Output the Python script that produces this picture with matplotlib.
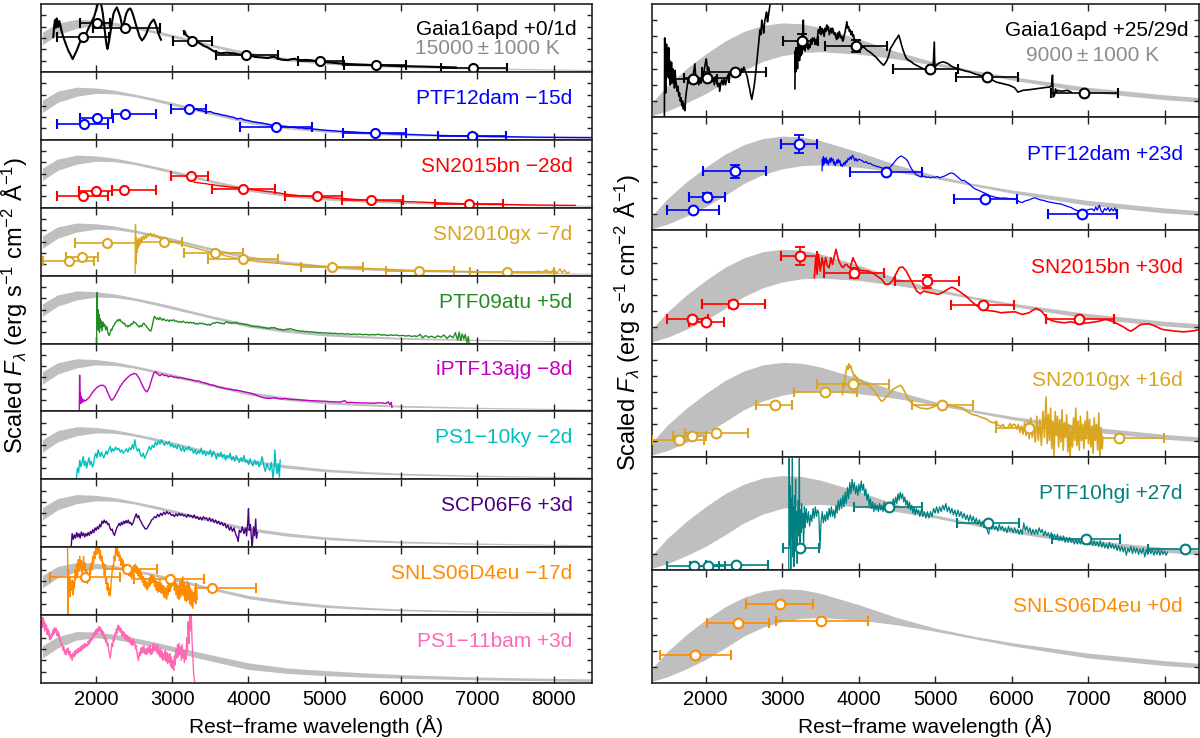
import matplotlib.pyplot as plt
import numpy as np

plt.rcParams['font.family'] = ['Liberation Sans', 'DejaVu Sans']
plt.rcParams['mathtext.fontset'] = 'custom'
plt.rcParams['mathtext.rm'] = 'Liberation Sans'
plt.rcParams['mathtext.it'] = 'Liberation Sans:italic'
plt.rcParams['mathtext.bf'] = 'Liberation Sans:bold'

# ---- blackbody bands (scaled flux units) ----
bb_wave = [1300, 1500, 1750, 2000, 2250, 2500, 2750, 3000, 3250, 3500,
           4000, 4500, 5000, 5500, 6000, 7000, 8000, 8500]
bb_left_hi = [3.5, 4.3, 4.65, 4.58, 4.38, 4.05, 3.7, 3.32, 2.9, 2.48,
              1.74, 1.27, 0.92, 0.7, 0.54, 0.37, 0.26, 0.22]
bb_left_lo = [2.4, 3.3, 3.85, 4.1, 4.06, 3.82, 3.45, 3.05, 2.65, 2.25,
              1.45, 0.98, 0.68, 0.5, 0.38, 0.25, 0.16, 0.13]
bb_cool_hi = [3.3, 4.1, 4.55, 4.5, 4.3, 4.0, 3.65, 3.25, 2.88, 2.5,
              1.78, 1.33, 1.1, 0.9, 0.74, 0.53, 0.41, 0.36]
bb_cool_lo = [2.2, 3.1, 3.8, 4.0, 3.85, 3.55, 3.2, 2.8, 2.35, 1.95,
              1.2, 0.85, 0.65, 0.52, 0.42, 0.28, 0.19, 0.14]
bb_right_hi = [0.9, 1.95, 3.0, 3.9, 4.7, 5.3, 5.68, 5.83, 5.78, 5.55,
               4.85, 4.05, 3.4, 2.9, 2.5, 1.85, 1.38, 1.2]
bb_right_lo = [0.1, 0.38, 0.88, 1.45, 2.15, 2.9, 3.45, 3.8, 4.0, 4.05,
               3.9, 3.6, 3.2, 2.75, 2.3, 1.55, 1.08, 0.92]

# ---- photometry: (wavelength, flux, band low edge, band high edge, flux error) ----
ph_gaia_early = [(1838, 3.07, 1487, 2167, 0), (2013, 4.33, 1794, 2189, 0), (2386, 3.9, 1969, 2846, 0),
                 (3263, 2.72, 3013, 3517, 0), (3974, 1.52, 3570, 4381, 0), (4941, 0.99, 4650, 5232, 0),
                 (5673, 0.6, 5257, 6065, 0), (6944, 0.33, 6522, 7393, 0)]
ph_ptf12dam_early = [(1839, 1.42, 1494, 2161, 0), (2014, 1.95, 1793, 2230, 0.1), (2377, 2.25, 2207, 2791, 0),
                     (3219, 2.75, 2980, 3440, 0.1), (4360, 1.12, 3895, 4829, 0), (5657, 0.59, 5243, 6057, 0),
                     (6922, 0.33, 6485, 7373, 0)]
ph_sn2015bn_early = [(1830, 1.0, 1494, 2161, 0), (2000, 1.47, 1784, 2207, 0), (2368, 1.59, 2207, 2782, 0),
                     (3242, 2.76, 2989, 3472, 0), (3932, 1.68, 3518, 4346, 0), (4898, 1.0, 4484, 5220, 0),
                     (5611, 0.65, 5220, 6025, 0), (6885, 0.35, 6439, 7336, 0)]
ph_sn2010gx_early = [(1655, 1.32, 1310, 1977, 0), (1816, 1.68, 1609, 2023, 0), (2147, 2.85, 1733, 2529, 0),
                     (2897, 3.0, 2529, 3127, 0), (3564, 1.97, 3150, 3932, 0), (3923, 1.44, 3472, 4392, 0),
                     (5091, 0.79, 4691, 5496, 0), (6232, 0.44, 5795, 6692, 0), (7391, 0.35, 6900, 8000, 0)]
ph_snls_early = [(1862, 3.34, 1402, 2322, 0), (2414, 4.08, 2115, 2805, 0), (2966, 3.2, 2506, 3412, 0),
                 (3518, 2.37, 3311, 4102, 0)]

ph_gaia_late = [(1842, 2.34, 1550, 2150, 0), (2017, 2.44, 1720, 2300, 0), (2381, 2.8, 1950, 2796, 0),
                (3265, 4.72, 3015, 3475, 0.4), (3969, 4.41, 3562, 4372, 0.35), (4939, 3.0, 4450, 5300, 0),
                (5678, 2.48, 5269, 6082, 0), (6952, 1.51, 6517, 7395, 0)]
ph_ptf12dam_late = [(1835, 1.24, 1495, 2179, 0), (2018, 2.09, 1789, 2248, 0.24), (2385, 3.64, 1972, 2789, 0.42),
                    (3225, 5.34, 2986, 3454, 0.54), (4362, 3.62, 3890, 4830, 0), (5656, 1.93, 5243, 6069, 0),
                    (6926, 0.99, 6482, 7376, 0)]
ph_sn2015bn_late = [(1826, 1.49, 1495, 2032, 0.1), (2000, 1.34, 1789, 2239, 0.1), (2362, 2.42, 1954, 2780, 0.2),
                    (3238, 5.41, 2986, 3454, 0.57), (3936, 4.38, 3546, 4339, 0.3), (4899, 3.86, 4477, 5312, 0.4),
                    (5624, 2.38, 5211, 6032, 0), (6880, 1.49, 6445, 7339, 0)]
ph_sn2010gx_late = [(1651, 1.05, 1298, 1986, 0), (1817, 1.26, 1573, 2009, 0), (2138, 1.47, 1734, 2550, 0),
                    (2904, 3.22, 2665, 3133, 0), (3560, 4.0, 3156, 3982, 0), (3927, 4.5, 3454, 4394, 0),
                    (5092, 3.18, 4693, 5495, 0), (6229, 1.78, 5793, 6665, 0), (7399, 1.16, 6780, 7995, 0)]
ph_ptf10hgi = [(1849, 0.21, 1495, 2170, 0), (2032, 0.21, 1800, 2250, 0), (2399, 0.27, 2000, 2812, 0),
               (3238, 1.37, 3009, 3477, 0), (4394, 3.89, 3940, 4830, 0), (5688, 2.9, 5289, 6092, 0),
               (6972, 1.93, 6527, 7422, 0), (8271, 1.26, 7789, 8468, 0)]
ph_snls_late = [(1862, 1.76, 1404, 2330, 0), (2422, 3.7, 2018, 2835, 0), (2972, 4.9, 2523, 3408, 0),
                (3509, 3.86, 2917, 4119, 0)]

# ---- spectra: (wavelength, scaled flux) ----
sp_gaia_early_uv = [(1443, 3.07), (1455, 4.1), (1465, 4.57), (1476, 3.9), (1487, 4.72), (1498, 4.1), (1509, 3.97),
                    (1520, 4.5), (1531, 4.27), (1552, 3.6), (1575, 3.07), (1605, 2.5), (1640, 1.88), (1670, 1.5),
                    (1697, 1.13), (1722, 1.5), (1750, 1.88), (1785, 2.5), (1816, 2.93), (1845, 3.2), (1873, 3.37),
                    (1900, 3.8), (1925, 4.12), (1950, 4.5), (1978, 4.87), (2000, 5.4), (2022, 5.91), (2040, 6.1),
                    (2057, 6.2), (2075, 5.8), (2092, 5.16), (2110, 4.1), (2127, 3.07), (2140, 2.4), (2153, 2.03),
                    (2170, 2.6), (2189, 3.37), (2210, 4.3), (2232, 5.16), (2255, 5.5), (2276, 5.7), (2298, 5.3),
                    (2320, 4.87), (2338, 4.3), (2355, 3.82), (2378, 4.6), (2399, 5.16), (2425, 5.5), (2452, 5.61),
                    (2475, 5.3), (2496, 4.87), (2520, 4.3), (2548, 3.67), (2575, 3.1), (2605, 2.78), (2632, 3.0),
                    (2662, 3.37), (2690, 3.9), (2715, 4.27), (2740, 4.5), (2759, 4.63), (2780, 4.3), (2803, 3.82),
                    (2820, 3.4), (2838, 3.07), (2855, 2.84)]
sp_gaia_early_opt = [(3153, 3.61), (3160, 3.3), (3168, 3.55), (3175, 3.37), (3190, 3.2), (3219, 3.07), (3250, 2.95),
                     (3285, 2.84), (3330, 2.65), (3373, 2.48), (3415, 2.3), (3460, 2.18), (3505, 2.0), (3548, 1.82),
                     (3590, 1.72), (3636, 1.64), (3680, 1.68), (3724, 1.7), (3765, 1.66), (3811, 1.64), (3855, 1.56),
                     (3899, 1.52), (3945, 1.56), (3987, 1.58), (4030, 1.45), (4075, 1.34), (4120, 1.3), (4162, 1.28),
                     (4205, 1.25), (4250, 1.22), (4295, 1.3), (4338, 1.34), (4380, 1.2), (4425, 1.1), (4470, 1.06),
                     (4513, 1.04), (4560, 1.12), (4601, 1.16), (4645, 1.08), (4689, 1.04), (4745, 1.06), (4801, 1.04),
                     (4870, 0.98), (4941, 0.93), (5020, 0.86), (5106, 0.81), (5215, 0.74), (5324, 0.69), (5430, 0.66),
                     (5542, 0.63), (5650, 0.6), (5759, 0.57), (5870, 0.54), (5977, 0.51), (6090, 0.5), (6195, 0.48),
                     (6300, 0.47), (6412, 0.45), (6500, 0.43), (6587, 0.42), (6650, 0.41), (6718, 0.39)]
sp_ptf12dam_early = [(3300, 2.75), (3350, 2.6), (3400, 2.55), (3450, 2.45), (3500, 2.5), (3550, 2.35), (3600, 2.3),
                     (3650, 2.2), (3700, 2.15), (3750, 2.05), (3800, 2.0), (3850, 1.85), (3900, 1.9), (3950, 1.75),
                     (4000, 1.7), (4050, 1.6), (4100, 1.55), (4150, 1.5), (4200, 1.45), (4250, 1.38), (4300, 1.3),
                     (4350, 1.22), (4400, 1.2), (4450, 1.2), (4500, 1.18), (4550, 1.12), (4600, 1.1), (4650, 1.05),
                     (4700, 1.05), (4750, 0.98), (4800, 1.0), (4850, 0.95), (4900, 0.92), (5000, 0.85), (5100, 0.8),
                     (5200, 0.75), (5300, 0.72), (5400, 0.68), (5500, 0.64), (5600, 0.62), (5700, 0.58), (5800, 0.55),
                     (5900, 0.52), (6000, 0.5), (6200, 0.45), (6400, 0.4), (6600, 0.37), (6800, 0.34), (7000, 0.31),
                     (7200, 0.29), (7400, 0.27), (7600, 0.25), (7800, 0.23), (8000, 0.22), (8200, 0.21), (8500, 0.2)]
sp_sn2015bn_early = [(3288, 2.26), (3320, 2.22), (3350, 2.2), (3400, 2.15), (3449, 2.12), (3485, 2.06), (3520, 2.05),
                     (3555, 2.0), (3587, 1.97), (3630, 1.92), (3680, 1.9), (3725, 1.85), (3771, 1.82), (3815, 1.8),
                     (3860, 1.78), (3910, 1.72), (3955, 1.68), (4000, 1.64), (4050, 1.6), (4095, 1.56), (4139, 1.53),
                     (4185, 1.48), (4230, 1.45), (4275, 1.42), (4323, 1.38), (4370, 1.32), (4420, 1.28), (4465, 1.22),
                     (4507, 1.18), (4575, 1.12), (4640, 1.08), (4710, 1.04), (4783, 1.0), (4850, 0.97), (4920, 0.94),
                     (4990, 0.91), (5059, 0.88), (5130, 0.85), (5200, 0.82), (5270, 0.79), (5335, 0.76), (5400, 0.73),
                     (5470, 0.7), (5540, 0.67), (5611, 0.65), (5680, 0.63), (5750, 0.62), (5820, 0.6), (5887, 0.59),
                     (6000, 0.56), (6100, 0.53), (6220, 0.5), (6347, 0.47), (6460, 0.44), (6580, 0.41), (6700, 0.38),
                     (6807, 0.35), (6930, 0.33), (7050, 0.32), (7160, 0.3), (7267, 0.29), (7380, 0.28), (7500, 0.27),
                     (7610, 0.25), (7727, 0.24), (7860, 0.23), (8000, 0.22), (8140, 0.21), (8279, 0.21)]
sp_sn2010gx_early = [(2515, 0.2), (2520, 4.5), (2524, 1.0), (2530, 3.3), (2536, 2.0), (2542, 3.1), (2550, 2.4),
                     (2558, 3.3), (2566, 2.6), (2575, 3.2), (2585, 2.8), (2595, 3.4), (2605, 3.0), (2620, 3.5),
                     (2635, 3.2), (2650, 3.6), (2665, 3.3), (2680, 3.7), (2700, 3.5), (2720, 3.75), (2740, 3.45),
                     (2760, 3.7), (2780, 3.4), (2800, 3.55), (2830, 3.3), (2860, 3.35), (2900, 3.15), (2950, 3.1),
                     (3000, 3.0), (3050, 2.9), (3100, 2.8), (3150, 2.7), (3200, 2.6), (3300, 2.45), (3400, 2.25),
                     (3500, 2.1), (3600, 1.95), (3700, 1.75), (3800, 1.6), (3900, 1.45), (4000, 1.35), (4100, 1.25),
                     (4200, 1.18), (4350, 1.1), (4500, 1.02), (4650, 0.95), (4800, 0.9), (4950, 0.83), (5100, 0.78),
                     (5250, 0.72), (5400, 0.68), (5550, 0.63), (5700, 0.6), (5850, 0.55), (6000, 0.5), (6200, 0.46),
                     (6400, 0.43), (6600, 0.4), (6800, 0.37), (7000, 0.35), (7200, 0.33), (7400, 0.31), (7600, 0.3),
                     (7700, 0.35), (7750, 0.28), (7800, 0.4), (7850, 0.3), (7900, 0.5), (7950, 0.25), (8000, 0.55),
                     (8040, 0.2), (8080, 0.6), (8110, 0.25), (8140, 0.5), (8170, 0.2), (8200, 0.3)]
sp_ptf09atu = [(2010, 0.0), (2016, 4.5), (2022, 1.8), (2028, 3.0), (2034, 1.2), (2040, 2.6), (2048, 1.0),
               (2056, 2.2), (2064, 1.4), (2072, 2.0), (2082, 1.1), (2092, 1.9), (2105, 1.5), (2118, 1.7),
               (2130, 1.2), (2145, 1.5), (2160, 0.9), (2175, 0.7), (2190, 1.0), (2200, 1.25), (2210, 1.2),
               (2225, 1.5), (2240, 1.6), (2255, 1.85), (2270, 1.9), (2285, 2.1), (2300, 2.0), (2315, 2.15),
               (2330, 1.95), (2345, 1.9), (2360, 1.75), (2375, 1.8), (2390, 1.55), (2405, 1.6), (2420, 1.45),
               (2435, 1.6), (2450, 1.55), (2465, 1.75), (2480, 1.7), (2495, 1.95), (2510, 1.85), (2525, 1.8),
               (2540, 1.65), (2555, 1.55), (2570, 1.45), (2585, 1.6), (2600, 1.5), (2615, 1.7), (2630, 1.8),
               (2645, 1.65), (2660, 1.55), (2675, 1.4), (2690, 1.3), (2705, 1.15), (2720, 1.1), (2730, 1.3),
               (2740, 1.6), (2750, 1.9), (2760, 2.25), (2770, 2.4), (2780, 2.3), (2795, 2.15), (2810, 2.25),
               (2825, 2.1), (2840, 2.3), (2855, 2.15), (2870, 2.05), (2885, 2.2), (2900, 2.1), (2920, 2.0),
               (2940, 2.1), (2960, 1.95), (2980, 2.08), (3000, 2.0), (3020, 2.1), (3040, 1.95), (3060, 2.0),
               (3080, 1.88), (3100, 1.95), (3120, 1.85), (3140, 1.98), (3160, 1.9), (3180, 1.82), (3200, 1.9),
               (3220, 1.8), (3240, 1.88), (3260, 1.8), (3280, 1.85), (3300, 1.72), (3320, 1.78), (3340, 1.7),
               (3360, 1.82), (3380, 1.75), (3400, 1.8), (3420, 1.68), (3440, 1.72), (3460, 1.62), (3480, 1.7),
               (3500, 1.6), (3520, 1.75), (3540, 1.82), (3560, 1.78), (3580, 1.9), (3600, 1.82), (3620, 1.86),
               (3640, 1.75), (3660, 1.8), (3680, 1.72), (3700, 1.88), (3720, 1.92), (3740, 1.8), (3760, 1.85),
               (3780, 1.76), (3800, 1.84), (3820, 1.78), (3840, 1.88), (3860, 1.8), (3880, 1.74), (3900, 1.78),
               (3920, 1.7), (3940, 1.74), (3960, 1.66), (3980, 1.7), (4000, 1.62), (4020, 1.6), (4040, 1.52),
               (4060, 1.56), (4080, 1.48), (4100, 1.52), (4120, 1.46), (4140, 1.52), (4160, 1.44), (4180, 1.42),
               (4200, 1.38), (4220, 1.4), (4240, 1.33), (4260, 1.36), (4280, 1.32), (4300, 1.42), (4320, 1.38),
               (4340, 1.42), (4360, 1.32), (4380, 1.3), (4400, 1.24), (4420, 1.26), (4440, 1.18), (4460, 1.22),
               (4480, 1.2), (4500, 1.28), (4520, 1.24), (4540, 1.32), (4560, 1.28), (4580, 1.24), (4600, 1.2),
               (4620, 1.16), (4650, 1.14), (4680, 1.08), (4710, 1.1), (4740, 1.04), (4770, 1.07), (4800, 1.02),
               (4830, 1.04), (4860, 0.98), (4890, 1.0), (4920, 0.94), (4950, 0.97), (4980, 0.92), (5010, 0.95),
               (5040, 0.9), (5070, 0.93), (5100, 0.88), (5140, 0.9), (5180, 0.85), (5220, 0.88), (5260, 0.83),
               (5300, 0.86), (5340, 0.8), (5380, 0.84), (5420, 0.79), (5460, 0.83), (5500, 0.77), (5540, 0.81),
               (5580, 0.75), (5620, 0.79), (5660, 0.76), (5700, 0.82), (5740, 0.74), (5780, 0.78), (5820, 0.7),
               (5860, 0.76), (5900, 0.72), (5940, 0.75), (5980, 0.68), (6020, 0.72), (6060, 0.66), (6100, 0.7),
               (6140, 0.62), (6180, 0.68), (6200, 0.6), (6250, 0.8), (6280, 0.5), (6320, 0.7), (6360, 0.55),
               (6400, 0.65), (6440, 0.5), (6480, 0.68), (6520, 0.55), (6560, 0.75), (6600, 0.45), (6640, 0.7),
               (6680, 0.5), (6710, 0.95), (6740, 0.3), (6760, 1.0), (6780, 0.25), (6800, 0.85), (6820, 0.4),
               (6840, 0.8), (6860, 0.1), (6880, 0.6), (6890, 0.0)]
sp_iptf13ajg = [(1784, 0.0), (1788, 3.2), (1793, 0.9), (1798, 1.6), (1804, 0.7), (1810, 1.3), (1818, 0.8),
                (1828, 1.1), (1840, 0.85), (1855, 1.0), (1870, 0.95), (1890, 1.1), (1910, 1.2), (1935, 1.45),
                (1960, 1.7), (1990, 1.95), (2020, 2.15), (2060, 2.3), (2100, 2.3), (2130, 2.1), (2160, 1.6),
                (2190, 1.15), (2210, 0.98), (2240, 1.2), (2280, 1.7), (2320, 2.2), (2360, 2.6), (2400, 2.9),
                (2450, 3.2), (2500, 3.35), (2530, 3.3), (2570, 2.9), (2610, 2.3), (2640, 1.9), (2670, 1.72),
                (2700, 2.1), (2730, 2.8), (2760, 3.4), (2785, 3.5), (2810, 3.3), (2840, 3.15), (2870, 3.3),
                (2900, 3.15), (2925, 3.2), (2950, 3.05), (2975, 3.12), (3000, 3.1), (3025, 3.0), (3050, 3.05),
                (3075, 2.95), (3100, 3.0), (3150, 2.92), (3200, 2.85), (3250, 2.8), (3300, 2.7), (3350, 2.68),
                (3400, 2.55), (3450, 2.48), (3500, 2.35), (3550, 2.3), (3600, 2.15), (3650, 2.1), (3700, 2.0),
                (3750, 1.97), (3800, 1.9), (3850, 1.86), (3900, 1.8), (3950, 1.72), (4000, 1.65), (4040, 1.58),
                (4080, 1.5), (4115, 1.4), (4150, 1.3), (4200, 1.2), (4240, 1.16), (4280, 1.15), (4320, 1.2),
                (4360, 1.18), (4400, 1.12), (4440, 1.1), (4480, 1.14), (4520, 1.1), (4560, 1.06), (4600, 1.05),
                (4650, 1.03), (4700, 1.0), (4750, 0.98), (4800, 0.95), (4850, 0.94), (4900, 0.92), (4950, 0.91),
                (5000, 0.9), (5050, 0.87), (5100, 0.85), (5150, 0.84), (5200, 0.82), (5260, 0.95), (5290, 0.78),
                (5350, 0.8), (5400, 0.77), (5450, 0.76), (5500, 0.75), (5550, 0.74), (5600, 0.73), (5650, 0.72),
                (5700, 0.76), (5750, 0.74), (5800, 0.7), (5830, 0.85), (5850, 0.6), (5870, 0.8), (5880, 0.35)]
sp_ps110ky = [(1745, 0.1), (1760, 1.0), (1775, 0.6), (1790, 1.7), (1805, 1.1), (1820, 1.5), (1835, 2.0),
              (1850, 1.2), (1865, 1.6), (1880, 1.0), (1895, 1.5), (1910, 1.9), (1925, 1.3), (1940, 1.6),
              (1955, 1.1), (1970, 1.3), (1985, 2.0), (2000, 2.3), (2015, 1.9), (2030, 2.6), (2045, 2.3),
              (2060, 2.0), (2075, 2.4), (2090, 2.1), (2105, 1.9), (2120, 2.2), (2135, 2.5), (2150, 2.2),
              (2170, 2.6), (2190, 2.9), (2205, 2.4), (2220, 2.7), (2240, 2.5), (2260, 2.85), (2280, 2.6),
              (2300, 2.75), (2320, 2.4), (2340, 2.6), (2360, 2.3), (2380, 2.5), (2400, 2.7), (2420, 2.4),
              (2440, 2.8), (2460, 2.6), (2480, 3.05), (2495, 2.7), (2510, 3.5), (2525, 2.9), (2545, 2.5),
              (2565, 2.7), (2585, 2.2), (2600, 2.0), (2620, 2.3), (2640, 1.85), (2660, 2.2), (2680, 2.5),
              (2700, 2.9), (2720, 2.6), (2740, 3.0), (2760, 2.8), (2780, 3.3), (2800, 3.0), (2820, 3.4),
              (2840, 3.1), (2860, 3.5), (2880, 3.2), (2900, 3.0), (2920, 3.3), (2940, 3.1), (2960, 3.35),
              (2980, 2.9), (3000, 3.1), (3020, 2.8), (3040, 3.0), (3060, 2.7), (3080, 3.05), (3100, 2.8),
              (3120, 2.5), (3140, 2.9), (3160, 2.45), (3180, 2.8), (3200, 2.6), (3220, 2.9), (3240, 2.55),
              (3260, 2.7), (3280, 2.3), (3300, 2.6), (3320, 2.2), (3340, 2.5), (3360, 2.3), (3380, 2.75),
              (3400, 2.2), (3420, 2.5), (3440, 2.1), (3460, 2.4), (3480, 2.2), (3500, 2.6), (3520, 2.0),
              (3540, 2.5), (3560, 2.2), (3580, 1.8), (3600, 2.3), (3620, 2.0), (3640, 2.4), (3660, 1.9),
              (3680, 2.2), (3700, 1.7), (3720, 2.1), (3740, 1.9), (3760, 2.3), (3780, 1.7), (3800, 2.0),
              (3820, 1.6), (3840, 2.1), (3860, 1.8), (3880, 1.5), (3900, 1.9), (3920, 1.6), (3940, 2.1),
              (3960, 1.5), (3980, 1.7), (4000, 1.3), (4020, 1.8), (4040, 1.4), (4060, 1.2), (4080, 1.7),
              (4100, 1.3), (4120, 1.6), (4140, 1.1), (4160, 1.5), (4180, 2.0), (4200, 1.2), (4220, 0.7),
              (4240, 1.4), (4260, 1.0), (4280, 0.8), (4300, 1.5), (4320, 0.1), (4335, 0.9), (4345, 2.6),
              (4360, 1.2), (4375, 0.5), (4390, 1.4), (4405, 0.2), (4415, 1.7)]
sp_scp06f6 = [(1678, 0.1), (1690, 1.2), (1705, 0.7), (1720, 1.1), (1735, 0.8), (1750, 1.3), (1765, 0.9),
              (1780, 1.2), (1795, 0.8), (1810, 1.35), (1825, 1.0), (1840, 1.25), (1855, 0.9), (1870, 1.2),
              (1885, 1.0), (1900, 1.3), (1915, 1.05), (1930, 1.4), (1945, 1.2), (1960, 1.55), (1975, 1.3),
              (1990, 1.7), (2005, 1.5), (2020, 1.8), (2035, 1.6), (2050, 2.0), (2065, 1.8), (2080, 2.3),
              (2095, 2.1), (2110, 2.4), (2125, 2.15), (2140, 2.3), (2155, 2.0), (2170, 2.1), (2185, 1.7),
              (2200, 1.5), (2215, 1.6), (2230, 1.2), (2245, 1.05), (2260, 1.4), (2275, 1.7), (2290, 1.9),
              (2305, 2.1), (2320, 1.9), (2335, 2.2), (2350, 2.0), (2365, 2.3), (2380, 2.1), (2395, 2.35),
              (2410, 2.15), (2425, 2.4), (2440, 2.1), (2455, 2.2), (2470, 1.95), (2485, 2.1), (2500, 2.4),
              (2515, 2.7), (2530, 2.95), (2545, 2.6), (2560, 2.8), (2575, 2.45), (2590, 2.3), (2610, 2.0),
              (2630, 1.8), (2650, 1.6), (2670, 1.65), (2690, 1.9), (2710, 2.1), (2730, 2.4), (2750, 2.5),
              (2770, 2.7), (2790, 2.6), (2810, 2.9), (2830, 2.7), (2850, 3.0), (2870, 2.8), (2890, 3.1),
              (2910, 2.9), (2930, 3.15), (2950, 2.95), (2970, 3.05), (2990, 2.8), (3010, 2.9), (3030, 2.7),
              (3050, 2.95), (3070, 2.75), (3090, 3.0), (3110, 2.8), (3130, 2.95), (3150, 2.75), (3170, 2.85),
              (3190, 2.65), (3210, 2.9), (3230, 2.7), (3250, 2.8), (3270, 2.6), (3290, 2.85), (3310, 2.55),
              (3330, 2.7), (3350, 2.45), (3370, 2.65), (3390, 2.4), (3410, 2.7), (3430, 2.5), (3450, 2.6),
              (3470, 2.35), (3490, 2.6), (3510, 2.3), (3530, 2.5), (3550, 2.2), (3570, 2.4), (3590, 2.1),
              (3610, 2.3), (3630, 2.0), (3650, 2.2), (3670, 1.9), (3690, 2.1), (3710, 1.7), (3730, 1.95),
              (3750, 1.5), (3770, 1.8), (3790, 1.4), (3810, 1.7), (3830, 1.2), (3850, 0.9), (3865, 0.5),
              (3880, 1.5), (3900, 1.3), (3920, 1.8), (3940, 1.2), (3960, 1.7), (3975, 1.0), (3990, 2.2),
              (4000, 3.4), (4010, 1.5), (4025, 2.0), (4040, 0.7), (4050, 0.1), (4065, 1.8), (4080, 1.0),
              (4095, 2.5), (4105, 0.8), (4116, 1.3)]
sp_snls_early = [(1630, 6.2), (1636, 0.1), (1642, 4.0), (1650, 2.0), (1658, 3.4), (1666, 1.6), (1675, 3.0),
                 (1684, 2.2), (1693, 3.1), (1702, 1.8), (1711, 3.0), (1720, 2.4), (1730, 4.0), (1740, 3.2),
                 (1750, 4.5), (1760, 3.4), (1770, 4.9), (1780, 3.9), (1790, 5.2), (1800, 4.1), (1810, 4.8),
                 (1820, 3.6), (1830, 4.4), (1840, 5.2), (1850, 4.0), (1860, 4.6), (1870, 3.2), (1880, 4.0),
                 (1890, 2.8), (1900, 3.6), (1910, 3.1), (1920, 4.2), (1930, 3.6), (1940, 4.6), (1950, 4.0),
                 (1960, 5.2), (1970, 4.6), (1980, 5.6), (1990, 5.0), (2000, 6.1), (2010, 5.4), (2020, 6.2),
                 (2030, 5.5), (2040, 6.0), (2050, 5.0), (2060, 5.7), (2070, 4.8), (2080, 5.2), (2090, 4.2),
                 (2100, 4.6), (2110, 3.5), (2120, 3.9), (2130, 2.8), (2140, 3.3), (2150, 2.2), (2160, 2.8),
                 (2170, 1.8), (2180, 2.4), (2190, 1.7), (2200, 2.8), (2210, 3.5), (2220, 4.4), (2230, 4.0),
                 (2240, 5.2), (2250, 4.8), (2260, 6.0), (2270, 5.3), (2280, 6.1), (2290, 5.2), (2300, 5.6),
                 (2310, 4.8), (2320, 5.3), (2330, 4.4), (2340, 5.0), (2350, 4.2), (2360, 4.8), (2370, 3.9),
                 (2380, 4.5), (2390, 3.8), (2400, 4.4), (2410, 3.6), (2420, 4.3), (2430, 3.5), (2440, 4.1),
                 (2450, 3.4), (2460, 4.0), (2470, 3.2), (2480, 4.2), (2490, 3.6), (2500, 4.4), (2510, 3.8),
                 (2520, 4.5), (2530, 3.7), (2540, 4.3), (2550, 3.5), (2560, 4.0), (2570, 3.3), (2580, 4.1),
                 (2590, 3.2), (2600, 3.7), (2610, 2.9), (2620, 3.4), (2630, 2.6), (2640, 3.2), (2650, 2.4),
                 (2660, 3.0), (2670, 2.2), (2680, 2.9), (2690, 2.4), (2700, 3.3), (2710, 2.6), (2720, 3.5),
                 (2730, 2.8), (2740, 3.6), (2750, 2.9), (2760, 3.4), (2770, 2.5), (2780, 3.1), (2790, 2.2),
                 (2800, 3.0), (2810, 2.0), (2820, 2.9), (2830, 2.1), (2840, 3.1), (2850, 2.0), (2860, 2.8),
                 (2870, 1.9), (2880, 2.6), (2890, 1.6), (2900, 2.5), (2910, 1.5), (2920, 2.4), (2930, 1.4),
                 (2940, 2.6), (2950, 1.8), (2960, 3.0), (2970, 2.1), (2980, 3.4), (2990, 2.4), (3000, 3.6),
                 (3010, 2.6), (3020, 3.3), (3030, 2.2), (3040, 3.0), (3050, 1.8), (3060, 2.8), (3070, 1.5),
                 (3080, 2.6), (3090, 1.4), (3100, 2.9), (3110, 1.6), (3120, 3.2), (3130, 1.8), (3140, 3.4),
                 (3150, 1.7), (3160, 2.9), (3170, 1.3), (3180, 2.6), (3190, 1.2), (3200, 3.0), (3210, 1.4),
                 (3220, 2.8), (3230, 1.0), (3240, 2.4), (3250, 0.8), (3260, 2.2), (3270, 0.6), (3280, 2.0),
                 (3290, 1.2), (3300, 2.5), (3310, 1.0), (3320, 2.2), (3330, 1.4)]
sp_ps111bam = [(1290, 5.6), (1298, 4.9), (1306, 5.8), (1314, 5.0), (1322, 5.5), (1330, 4.6), (1338, 5.3),
               (1346, 4.8), (1354, 5.1), (1362, 4.3), (1370, 4.8), (1378, 4.2), (1386, 4.6), (1394, 3.8),
               (1402, 4.2), (1410, 3.9), (1420, 4.4), (1430, 4.1), (1440, 4.7), (1450, 4.3), (1460, 4.9),
               (1470, 4.5), (1480, 4.8), (1490, 4.2), (1500, 4.6), (1510, 4.1), (1520, 4.4), (1530, 3.7),
               (1540, 3.9), (1550, 3.3), (1560, 3.5), (1570, 2.9), (1580, 3.2), (1590, 2.6), (1600, 2.9),
               (1610, 2.5), (1620, 3.0), (1630, 2.7), (1640, 3.1), (1650, 2.5), (1660, 2.8), (1670, 2.2),
               (1680, 2.5), (1690, 2.0), (1700, 2.6), (1710, 2.3), (1720, 2.8), (1730, 2.4), (1740, 2.9),
               (1750, 2.6), (1760, 3.0), (1770, 2.7), (1780, 3.1), (1790, 2.8), (1800, 3.2), (1810, 2.9),
               (1820, 3.3), (1830, 3.0), (1840, 3.4), (1850, 3.1), (1860, 3.5), (1870, 3.2), (1880, 3.4),
               (1890, 3.3), (1900, 3.7), (1910, 3.4), (1920, 3.9), (1930, 3.6), (1940, 4.0), (1950, 3.8),
               (1960, 4.3), (1970, 4.0), (1980, 4.5), (1990, 4.2), (2000, 4.7), (2010, 4.3), (2020, 4.8),
               (2030, 4.5), (2040, 5.0), (2050, 4.6), (2060, 4.9), (2070, 4.4), (2080, 4.7), (2090, 4.2),
               (2100, 4.5), (2110, 3.9), (2120, 4.2), (2130, 3.6), (2140, 3.9), (2150, 3.3), (2160, 3.5),
               (2170, 2.8), (2180, 2.5), (2190, 2.2), (2200, 2.9), (2210, 3.5), (2220, 3.2), (2230, 4.0),
               (2240, 3.7), (2250, 4.4), (2260, 4.1), (2270, 4.8), (2280, 4.4), (2290, 5.1), (2300, 4.7),
               (2310, 5.0), (2320, 4.5), (2330, 4.8), (2340, 4.2), (2350, 4.6), (2360, 4.1), (2370, 4.5),
               (2380, 3.9), (2390, 4.3), (2400, 3.8), (2410, 4.2), (2420, 3.7), (2430, 4.1), (2440, 3.6),
               (2450, 4.0), (2460, 3.4), (2470, 3.8), (2480, 3.3), (2490, 3.9), (2500, 3.4), (2510, 3.6),
               (2520, 3.0), (2530, 3.3), (2540, 2.6), (2550, 2.2), (2560, 2.0), (2570, 2.7), (2580, 2.4),
               (2590, 3.1), (2600, 2.6), (2610, 3.2), (2620, 2.7), (2630, 3.3), (2640, 2.6), (2650, 3.0),
               (2660, 2.5), (2670, 3.1), (2680, 2.6), (2690, 3.2), (2700, 2.7), (2710, 3.3), (2720, 2.5),
               (2730, 3.0), (2740, 2.6), (2750, 3.4), (2760, 2.8), (2770, 3.5), (2780, 2.9), (2790, 3.2),
               (2800, 2.7), (2810, 3.4), (2820, 2.5), (2830, 3.0), (2840, 2.3), (2850, 3.1), (2860, 2.2),
               (2870, 2.8), (2880, 2.0), (2890, 2.6), (2900, 2.1), (2910, 2.9), (2920, 1.9), (2930, 2.7),
               (2940, 1.7), (2950, 2.5), (2960, 1.8), (2970, 2.6), (2980, 1.5), (2990, 2.3), (3000, 1.3),
               (3010, 2.0), (3020, 1.1), (3030, 2.4), (3040, 1.6), (3050, 3.0), (3060, 2.2), (3070, 3.4),
               (3080, 2.3), (3090, 3.5), (3100, 2.5), (3110, 3.2), (3120, 2.0), (3130, 3.4), (3140, 2.2),
               (3150, 2.9), (3160, 1.8), (3170, 2.8), (3180, 2.1), (3190, 4.0), (3200, 2.8), (3210, 5.4),
               (3220, 3.5), (3230, 6.2), (3240, 4.6), (3250, 6.2), (3260, 3.8), (3270, 2.5), (3280, 1.0),
               (3290, 0.4), (3300, -0.3), (3310, -1.0)]

sp_gaia_late_uv = [(1462, 0.0), (1466, 4.9), (1470, 2.0), (1474, 4.6), (1478, 1.5), (1482, 3.8), (1486, 2.4),
                   (1490, 4.5), (1494, 3.0), (1498, 4.2), (1503, 2.5), (1508, 3.9), (1513, 2.8), (1518, 4.3),
                   (1524, 2.4), (1530, 3.5), (1536, 2.0), (1542, 3.2), (1548, 2.6), (1555, 3.4), (1562, 2.2),
                   (1570, 3.0), (1578, 2.1), (1586, 2.6), (1594, 1.8), (1602, 2.9), (1610, 2.3), (1620, 2.0),
                   (1630, 1.6), (1640, 1.9), (1650, 1.3), (1660, 1.5), (1670, 1.0), (1680, 1.2), (1690, 0.7),
                   (1700, 1.0), (1710, 0.5), (1720, 0.8), (1730, 0.4), (1740, 1.2), (1750, 1.6), (1760, 1.9),
                   (1770, 2.4), (1780, 2.1), (1790, 2.5), (1800, 2.2), (1815, 2.6), (1830, 2.3), (1845, 2.8),
                   (1860, 3.3), (1870, 2.6), (1880, 2.2), (1895, 2.5), (1910, 2.0), (1925, 2.3), (1940, 2.1),
                   (1955, 2.6), (1970, 2.4), (1985, 3.0), (2000, 3.4), (2010, 3.6), (2025, 2.9), (2040, 3.1),
                   (2055, 2.7), (2070, 2.5), (2085, 2.2), (2100, 2.4), (2115, 2.0), (2130, 2.5), (2145, 2.2),
                   (2160, 1.9), (2175, 2.1), (2185, 1.6), (2200, 2.1), (2215, 2.3), (2230, 2.0), (2245, 2.4),
                   (2260, 2.0), (2275, 2.3), (2290, 2.6), (2305, 2.4), (2320, 2.8), (2335, 2.6), (2350, 3.0),
                   (2365, 2.9), (2380, 2.6), (2395, 2.9), (2410, 2.5), (2425, 2.7), (2440, 2.9), (2455, 2.6),
                   (2470, 3.0), (2485, 2.8), (2500, 3.1), (2515, 2.9), (2530, 2.7), (2545, 2.5), (2560, 2.1),
                   (2575, 1.8), (2590, 1.4), (2605, 1.1), (2620, 1.5), (2635, 1.9), (2650, 2.5), (2665, 3.2),
                   (2680, 3.9), (2695, 4.6), (2710, 5.4), (2722, 5.1), (2735, 6.0), (2748, 5.6), (2760, 5.2),
                   (2772, 5.9), (2785, 6.2), (2797, 6.5), (2810, 5.9), (2822, 6.3), (2835, 6.7), (2849, 7.2)]
sp_gaia_late_opt = [(3168, 1.76), (3172, 4.1), (3178, 2.8), (3184, 4.3), (3190, 3.2), (3196, 4.0), (3202, 3.0),
                    (3208, 4.5), (3214, 3.6), (3220, 4.4), (3228, 3.5), (3236, 4.2), (3244, 3.8), (3252, 4.4),
                    (3260, 3.9), (3270, 4.6), (3278, 6.0), (3285, 4.2), (3292, 4.5), (3300, 4.1), (3310, 4.6),
                    (3321, 4.4), (3332, 4.7), (3343, 4.2), (3354, 4.5), (3365, 4.3), (3376, 4.8), (3387, 4.5),
                    (3398, 4.9), (3409, 4.7), (3420, 4.9), (3431, 4.5), (3442, 4.8), (3453, 4.5), (3464, 5.0),
                    (3475, 5.4), (3486, 5.2), (3497, 5.6), (3508, 5.1), (3519, 5.5), (3530, 5.2), (3540, 5.4),
                    (3551, 5.0), (3562, 5.5), (3573, 5.3), (3584, 5.7), (3595, 5.4), (3606, 5.6), (3617, 5.1),
                    (3628, 5.3), (3639, 5.5), (3650, 5.2), (3661, 5.5), (3672, 5.3), (3683, 5.1), (3694, 5.2),
                    (3705, 4.9), (3715, 4.8), (3726, 5.2), (3737, 4.9), (3748, 5.3), (3759, 5.1), (3770, 4.9),
                    (3781, 5.0), (3792, 4.7), (3803, 4.8), (3814, 5.1), (3825, 5.3), (3836, 5.6), (3847, 5.9),
                    (3858, 5.5), (3869, 5.6), (3880, 5.3), (3891, 5.4), (3902, 5.1), (3913, 5.3), (3924, 5.0),
                    (3934, 5.1), (3945, 4.8), (3956, 4.6), (3967, 4.4), (3978, 4.35), (4000, 4.3), (4022, 4.24),
                    (4044, 4.3), (4066, 4.35), (4088, 4.25), (4109, 4.14), (4140, 4.05), (4170, 3.95), (4197, 3.83),
                    (4230, 3.7), (4262, 3.52), (4295, 3.35), (4328, 3.21), (4350, 3.35), (4372, 3.52), (4394, 3.8),
                    (4416, 4.24), (4450, 4.5), (4481, 4.76), (4503, 4.9), (4525, 5.07), (4539, 4.87), (4560, 4.5),
                    (4582, 4.14), (4605, 3.85), (4626, 3.62), (4660, 3.5), (4691, 3.42), (4720, 3.3), (4756, 3.21),
                    (4800, 3.1), (4843, 3.0), (4885, 2.9), (4930, 2.8), (4950, 2.9), (4974, 3.0), (4990, 4.65),
                    (4998, 2.8), (5005, 3.15), (5039, 3.31), (5070, 3.38), (5104, 3.42), (5135, 3.38), (5169, 3.31),
                    (5200, 3.2), (5235, 3.1), (5265, 3.05), (5300, 3.0), (5330, 2.95), (5365, 2.9), (5400, 2.85),
                    (5452, 2.8), (5495, 2.72), (5539, 2.65), (5580, 2.6), (5626, 2.53), (5670, 2.45), (5713, 2.38),
                    (5755, 2.28), (5800, 2.17), (5845, 2.12), (5887, 2.07), (5930, 2.02), (5973, 1.97), (6005, 1.9),
                    (6039, 1.82), (6060, 1.7), (6082, 1.55), (6115, 1.6), (6147, 1.66), (6190, 1.68), (6234, 1.7),
                    (6280, 1.73), (6321, 1.76), (6365, 1.79), (6408, 1.82), (6450, 1.84), (6495, 1.86), (6520, 1.9),
                    (6535, 2.6), (6545, 1.25), (6560, 1.35), (6575, 1.75), (6590, 1.55), (6604, 1.66), (6630, 1.62),
                    (6669, 1.61), (6700, 1.64), (6734, 1.66), (6755, 1.6), (6778, 1.55)]
sp_ptf12dam_late = [(3523, 3.69), (3527, 4.4), (3532, 4.0), (3540, 4.55), (3548, 4.1), (3556, 4.45), (3565, 4.2),
                    (3575, 4.5), (3585, 4.15), (3595, 4.35), (3605, 4.05), (3615, 4.25), (3625, 4.45), (3635, 4.2),
                    (3645, 4.5), (3655, 4.3), (3665, 4.4), (3675, 4.1), (3685, 4.25), (3695, 4.0), (3706, 4.15),
                    (3716, 4.35), (3726, 4.15), (3736, 4.4), (3746, 4.2), (3756, 4.3), (3766, 4.0), (3776, 4.1),
                    (3787, 3.95), (3798, 4.05), (3810, 4.2), (3822, 4.05), (3835, 4.3), (3848, 4.2), (3862, 4.45),
                    (3876, 4.35), (3890, 4.55), (3905, 4.4), (3920, 4.65), (3936, 4.5), (3950, 4.3), (3965, 4.45),
                    (3982, 4.28), (4000, 4.4), (4027, 4.35), (4050, 4.3), (4075, 4.2), (4100, 4.25), (4125, 4.12),
                    (4150, 4.15), (4180, 4.05), (4211, 4.0), (4240, 3.95), (4270, 3.92), (4303, 3.86), (4330, 3.82),
                    (4360, 3.8), (4394, 3.85), (4420, 3.95), (4450, 4.1), (4480, 4.3), (4510, 4.45), (4535, 4.55),
                    (4560, 4.6), (4585, 4.52), (4610, 4.45), (4640, 4.3), (4670, 4.0), (4700, 3.75), (4730, 3.55),
                    (4760, 3.42), (4790, 3.35), (4820, 3.3), (4850, 3.35), (4880, 3.28), (4910, 3.3), (4940, 3.25),
                    (4970, 3.3), (5000, 3.28), (5030, 3.33), (5060, 3.25), (5090, 3.3), (5120, 3.35), (5150, 3.42),
                    (5180, 3.5), (5210, 3.55), (5240, 3.52), (5270, 3.4), (5300, 3.28), (5330, 3.15), (5358, 3.06),
                    (5380, 3.1), (5404, 3.0), (5430, 2.92), (5460, 2.8), (5495, 2.65), (5530, 2.55), (5570, 2.47),
                    (5610, 2.38), (5650, 2.3), (5690, 2.2), (5730, 2.12), (5771, 2.07), (5810, 2.02), (5862, 1.99),
                    (5910, 2.0), (5960, 1.97), (6000, 1.95), (6046, 1.93), (6080, 1.85), (6110, 1.75), (6138, 1.72),
                    (6170, 1.8), (6200, 1.85), (6229, 1.88), (6260, 1.95), (6290, 2.0), (6321, 1.99), (6350, 1.92),
                    (6380, 1.88), (6413, 1.86), (6450, 1.8), (6480, 1.76), (6520, 1.73), (6550, 1.7), (6590, 1.66),
                    (6630, 1.64), (6660, 1.6), (6688, 1.55), (6720, 1.5), (6750, 1.45), (6780, 1.41), (6810, 1.32),
                    (6840, 1.25), (6871, 1.2), (6900, 1.16), (6930, 1.22), (6963, 1.18), (6990, 1.25), (7020, 1.3),
                    (7055, 1.32), (7080, 1.2), (7100, 1.45), (7120, 1.25), (7147, 1.55), (7170, 1.2), (7193, 1.1),
                    (7215, 1.35), (7238, 1.25), (7260, 1.4), (7284, 1.18), (7305, 1.35), (7330, 1.2), (7350, 1.38),
                    (7376, 1.05)]
sp_sn2015bn_late = [(3422, 4.07), (3440, 5.31), (3459, 4.28), (3477, 5.52), (3500, 4.48), (3523, 5.31),
                    (3546, 4.69), (3569, 5.31), (3592, 4.8), (3615, 4.69), (3638, 5.31), (3660, 4.9), (3683, 5.4),
                    (3706, 5.83), (3730, 5.3), (3752, 5.0), (3775, 4.8), (3798, 4.69), (3820, 4.85), (3844, 4.9),
                    (3867, 4.75), (3890, 4.69), (3910, 5.0), (3927, 5.31), (3945, 5.1), (3959, 5.0), (3982, 4.69),
                    (4027, 4.52), (4073, 4.5), (4119, 4.48), (4165, 4.4), (4211, 4.28), (4257, 4.12), (4303, 3.97),
                    (4349, 3.66), (4394, 3.66), (4440, 3.86), (4486, 4.28), (4532, 4.69), (4578, 4.73), (4624, 4.48),
                    (4658, 4.15), (4693, 3.86), (4727, 3.55), (4761, 3.24), (4807, 3.08), (4853, 3.24), (4900, 3.18),
                    (4945, 3.14), (4990, 3.1), (5037, 3.04), (5083, 3.12), (5128, 3.24), (5175, 3.38), (5220, 3.49),
                    (5266, 3.38), (5312, 3.24), (5358, 3.08), (5404, 2.93), (5450, 2.72), (5495, 2.52), (5541, 2.35),
                    (5587, 2.21), (5633, 2.12), (5679, 2.05), (5725, 2.02), (5771, 2.0), (5816, 1.95), (5862, 1.9),
                    (5908, 1.92), (5954, 1.94), (6000, 1.95), (6046, 1.96), (6092, 1.88), (6138, 1.8), (6183, 1.85),
                    (6229, 1.9), (6275, 2.05), (6321, 2.17), (6355, 2.1), (6390, 2.0), (6425, 1.8), (6459, 1.59),
                    (6505, 1.46), (6550, 1.38), (6620, 1.32), (6688, 1.28), (6735, 1.31), (6780, 1.34), (6825, 1.28),
                    (6871, 1.22), (6940, 1.25), (7009, 1.28), (7078, 1.33), (7147, 1.38), (7193, 1.45), (7238, 1.49),
                    (7284, 1.42), (7330, 1.34), (7400, 1.18), (7468, 1.01), (7514, 0.86), (7559, 0.76), (7594, 0.86),
                    (7628, 0.97), (7662, 1.1), (7697, 1.18), (7743, 1.2), (7789, 1.22), (7835, 1.15), (7881, 1.07),
                    (7926, 0.96), (7972, 0.87), (8018, 0.84), (8064, 0.81), (8110, 0.78), (8156, 0.76), (8202, 0.74),
                    (8248, 0.72), (8293, 0.74), (8339, 0.76), (8400, 0.8), (8454, 0.87)]
sp_sn2010gx_late = [(3789, 3.84), (3800, 4.6), (3812, 4.3), (3825, 5.0), (3838, 5.3), (3850, 5.6), (3862, 5.4),
                    (3875, 5.75), (3888, 5.5), (3900, 5.6), (3913, 5.3), (3926, 5.2), (3940, 4.95), (3955, 5.05),
                    (3970, 4.85), (3985, 4.9), (4000, 4.75), (4030, 4.75), (4060, 4.6), (4090, 4.5), (4120, 4.45),
                    (4150, 4.3), (4180, 4.2), (4210, 4.05), (4240, 3.85), (4270, 3.6), (4300, 3.43), (4330, 3.5),
                    (4360, 3.7), (4394, 3.84), (4430, 4.05), (4460, 4.2), (4490, 4.28), (4520, 4.35), (4545, 4.42),
                    (4570, 4.3), (4600, 4.05), (4630, 3.75), (4670, 3.43), (4710, 3.25), (4760, 3.12), (4810, 3.0),
                    (4853, 2.98), (4900, 2.95), (4945, 3.02), (4990, 3.1), (5037, 3.22), (5080, 3.25), (5130, 3.2),
                    (5174, 3.22), (5220, 3.15), (5266, 3.12), (5310, 3.05), (5358, 3.02), (5400, 2.85), (5449, 2.71),
                    (5490, 2.6), (5541, 2.56), (5590, 2.45), (5633, 2.4), (5680, 2.3), (5720, 2.15), (5771, 2.09),
                    (5800, 2.2), (5820, 1.95), (5862, 1.88), (5890, 2.0), (5910, 1.75), (5954, 1.82), (5980, 2.05),
                    (6000, 1.8), (6020, 2.0), (6046, 1.98), (6070, 1.7), (6090, 2.0), (6110, 1.5), (6130, 1.9),
                    (6150, 1.4), (6170, 2.1), (6190, 1.3), (6210, 2.2), (6230, 1.1), (6250, 2.4), (6270, 1.2),
                    (6290, 2.0), (6310, 0.9), (6330, 2.5), (6350, 1.0), (6370, 2.3), (6390, 0.7), (6410, 2.8),
                    (6430, 1.2), (6450, 3.7), (6465, 0.8), (6480, 2.6), (6495, 1.0), (6510, 3.0), (6525, 0.5),
                    (6540, 2.2), (6555, 0.0), (6570, 2.8), (6585, 1.3), (6600, 2.5), (6615, 0.6), (6630, 2.3),
                    (6645, 0.9), (6660, 2.9), (6675, 0.4), (6690, 2.1), (6705, 1.2), (6720, 2.6), (6735, 0.3),
                    (6750, 2.0), (6765, -0.1), (6780, 1.9), (6795, 0.6), (6810, 2.4), (6825, 1.0), (6840, 3.0),
                    (6855, 0.7), (6870, 2.2), (6885, 0.4), (6900, 2.5), (6915, 1.0), (6930, 2.0), (6945, 0.5),
                    (6960, 2.2), (6975, 1.1), (6990, 2.8), (7005, 0.8), (7020, 2.3), (7035, 0.6), (7050, 1.9),
                    (7065, 0.2), (7080, 2.4), (7095, 1.0), (7110, 2.0), (7125, 0.4), (7140, 2.7), (7155, -0.1),
                    (7170, 1.8), (7185, 0.5), (7193, 1.2)]
sp_ptf10hgi = [(3087, 0.0), (3093, 6.9), (3100, 1.5), (3107, 5.2), (3114, 0.0), (3121, 4.4), (3128, 2.0),
               (3135, 6.9), (3142, 0.8), (3149, 3.9), (3156, 0.2), (3163, 4.6), (3170, 2.4), (3177, 5.6),
               (3184, 1.2), (3191, 3.6), (3198, 0.4), (3205, 3.2), (3212, 4.3), (3219, 2.1), (3226, 6.9),
               (3233, 1.7), (3240, 3.7), (3248, 2.3), (3256, 4.1), (3264, 2.6), (3272, 3.5), (3282, 1.3),
               (3292, 3.9), (3302, 2.6), (3315, 3.8), (3330, 2.9), (3345, 3.6), (3360, 2.7), (3375, 3.4),
               (3390, 3.0), (3405, 3.8), (3420, 3.2), (3435, 3.9), (3450, 3.3), (3465, 3.7), (3480, 3.5),
               (3495, 1.3), (3510, 3.0), (3525, 3.6), (3540, 2.9), (3555, 3.4), (3570, 3.0), (3585, 3.6),
               (3600, 3.1), (3615, 3.8), (3630, 3.3), (3645, 3.9), (3660, 3.3), (3675, 3.7), (3690, 3.2),
               (3705, 4.0), (3720, 3.5), (3735, 4.3), (3750, 3.7), (3765, 4.4), (3780, 3.8), (3795, 4.6),
               (3810, 3.9), (3825, 4.8), (3840, 4.1), (3855, 5.1), (3870, 4.4), (3885, 5.4), (3900, 4.7),
               (3915, 5.6), (3930, 4.9), (3945, 5.4), (3960, 4.7), (3975, 5.2), (3990, 4.6), (4005, 5.3),
               (4020, 4.8), (4035, 5.5), (4050, 4.9), (4065, 5.3), (4080, 4.6), (4095, 5.0), (4110, 4.3),
               (4125, 4.7), (4140, 3.9), (4155, 4.4), (4170, 3.8), (4185, 4.2), (4200, 3.6), (4215, 4.1),
               (4230, 3.7), (4245, 4.0), (4260, 3.6), (4275, 4.1), (4290, 3.7), (4305, 4.0), (4320, 3.6),
               (4335, 4.2), (4350, 3.8), (4365, 4.1), (4380, 3.7), (4395, 4.0), (4410, 3.7), (4425, 4.2),
               (4440, 3.9), (4455, 4.4), (4470, 4.0), (4485, 4.5), (4500, 4.1), (4515, 4.7), (4530, 4.3),
               (4545, 4.8), (4560, 4.4), (4575, 4.7), (4590, 4.2), (4605, 4.5), (4620, 4.0), (4635, 4.3),
               (4650, 3.8), (4665, 4.2), (4680, 3.7), (4695, 4.0), (4710, 3.5), (4725, 3.9), (4740, 3.4),
               (4755, 3.8), (4770, 3.5), (4785, 3.7), (4800, 3.3), (4820, 3.7), (4840, 3.3), (4860, 3.6),
               (4880, 3.2), (4900, 3.6), (4920, 3.2), (4940, 3.6), (4960, 3.3), (4980, 3.8), (5000, 3.5),
               (5020, 3.9), (5040, 3.5), (5060, 3.9), (5080, 3.6), (5100, 4.0), (5120, 3.7), (5140, 4.1),
               (5160, 3.6), (5180, 3.9), (5200, 3.5), (5220, 3.8), (5240, 3.4), (5260, 3.7), (5280, 3.3),
               (5300, 3.7), (5320, 3.3), (5340, 3.6), (5360, 3.2), (5380, 3.5), (5400, 3.1), (5420, 3.4),
               (5440, 3.0), (5460, 3.4), (5480, 3.0), (5500, 3.3), (5520, 2.9), (5540, 3.2), (5560, 2.8),
               (5580, 3.1), (5600, 2.7), (5620, 3.0), (5640, 2.6), (5660, 2.9), (5680, 2.5), (5700, 2.2),
               (5720, 2.8), (5740, 2.5), (5760, 2.8), (5780, 2.5), (5800, 2.7), (5820, 2.4), (5840, 2.8),
               (5860, 2.5), (5880, 2.7), (5900, 2.4), (5920, 2.6), (5940, 2.3), (5960, 2.7), (5980, 2.4),
               (6000, 2.6), (6020, 2.3), (6040, 2.6), (6060, 2.3), (6080, 2.5), (6100, 2.2), (6120, 2.5),
               (6140, 2.2), (6160, 2.9), (6180, 2.4), (6200, 2.7), (6220, 2.3), (6240, 2.6), (6260, 2.2),
               (6280, 2.5), (6300, 2.2), (6320, 2.5), (6340, 2.2), (6360, 2.6), (6380, 2.3), (6400, 2.5),
               (6420, 2.1), (6440, 2.4), (6460, 2.1), (6480, 2.3), (6500, 2.0), (6520, 2.3), (6540, 1.9),
               (6560, 2.2), (6580, 1.9), (6600, 2.2), (6620, 1.8), (6640, 2.1), (6660, 1.8), (6680, 2.1),
               (6700, 1.7), (6720, 2.0), (6740, 1.7), (6760, 2.0), (6780, 1.7), (6800, 1.9), (6820, 1.6),
               (6840, 1.9), (6860, 1.6), (6880, 1.9), (6900, 1.6), (6920, 1.9), (6940, 1.6), (6960, 1.9),
               (6980, 1.6), (7000, 1.85), (7020, 1.55), (7040, 1.8), (7060, 1.5), (7080, 1.8), (7100, 1.5),
               (7120, 1.75), (7140, 1.45), (7160, 1.8), (7180, 1.4), (7200, 1.7), (7220, 1.35), (7240, 1.6),
               (7260, 1.3), (7280, 1.7), (7300, 1.35), (7320, 1.6), (7340, 1.3), (7360, 1.55), (7380, 1.2),
               (7400, 1.5), (7420, 1.15), (7440, 1.45), (7460, 1.1), (7480, 1.4), (7500, 0.9), (7520, 1.35),
               (7540, 1.1), (7560, 1.45), (7580, 1.0), (7600, 1.4), (7620, 1.05), (7640, 1.35), (7660, 0.95),
               (7680, 1.3), (7700, 1.0), (7720, 1.35), (7740, 0.8), (7760, 1.25), (7780, 0.95), (7800, 1.3),
               (7820, 1.0), (7840, 1.25), (7860, 0.9), (7880, 1.2), (7900, 0.95), (7920, 1.25), (7940, 0.9),
               (7960, 1.2), (7980, 0.95), (8000, 1.15), (8020, 0.9), (8040, 1.1)]

left_names = ['Gaia16apd +0/1d', 'PTF12dam \u221215d', 'SN2015bn \u221228d', 'SN2010gx \u22127d',
              'PTF09atu +5d', 'iPTF13ajg \u22128d', 'PS1\u221210ky \u22122d', 'SCP06F6 +3d',
              'SNLS06D4eu \u221217d', 'PS1\u221211bam +3d']
left_colors = ['black', '#0000ff', '#ff0000', '#daa520', '#228b22', '#c000c0', '#00bfbf',
               '#4b0082', '#ff8c00', '#ff69b4']
right_names = ['Gaia16apd +25/29d', 'PTF12dam +23d', 'SN2015bn +30d', 'SN2010gx +16d',
               'PTF10hgi +27d', 'SNLS06D4eu +0d']
right_colors = ['black', '#0000ff', '#ff0000', '#daa520', '#008080', '#ff8c00']
temp_labels = ['15000\u2009\u00b1\u20091000 K', '9000\u2009\u00b1\u20091000 K']

left_spectra = [[sp_gaia_early_uv, sp_gaia_early_opt], [sp_ptf12dam_early], [sp_sn2015bn_early],
                [sp_sn2010gx_early], [sp_ptf09atu], [sp_iptf13ajg], [sp_ps110ky], [sp_scp06f6],
                [sp_snls_early], [sp_ps111bam]]
left_phot = [ph_gaia_early, ph_ptf12dam_early, ph_sn2015bn_early, ph_sn2010gx_early, None, None,
             None, None, ph_snls_early, None]
left_bands = [(bb_left_lo, bb_left_hi)] * 9 + [(bb_cool_lo, bb_cool_hi)]
right_spectra = [[sp_gaia_late_uv, sp_gaia_late_opt], [sp_ptf12dam_late], [sp_sn2015bn_late],
                 [sp_sn2010gx_late], [sp_ptf10hgi], []]
right_phot = [ph_gaia_late, ph_ptf12dam_late, ph_sn2015bn_late, ph_sn2010gx_late, ph_ptf10hgi, ph_snls_late]

W, H = 1200, 738
fig = plt.figure(figsize=(12, 7.38), dpi=100)


def stack(x0, x1, top, bottom, n):
    h = (bottom - top) / n
    return [fig.add_axes([x0 / W, 1 - (top + (i + 1) * h) / H, (x1 - x0) / W, h / H]) for i in range(n)]


def draw(ax, band, spectra, phot, color, lw, ms):
    ax.fill_between(bb_wave, band[0], band[1], color='#bfbfbf', lw=0, zorder=1)
    for sp in spectra:
        w, f = np.array(sp, dtype=float).T
        ax.plot(w, f, color=color, lw=lw, zorder=2)
    if phot:
        w, f, lo, hi, ey = np.array(phot, dtype=float).T
        m = ey > 0
        if m.any():
            ax.errorbar(w[m], f[m], yerr=ey[m], fmt='none', ecolor=color, elinewidth=1.3,
                        capsize=3.5, capthick=1.3, zorder=3)
        ax.errorbar(w, f, xerr=[w - lo, hi - w], fmt='o', ms=ms, mfc='white', mec=color, mew=1.5,
                    ecolor=color, elinewidth=1.2, capsize=3.5, capthick=1.3, zorder=4)


def style(ax, ymax, xlim, bottom):
    ax.set_xlim(*xlim)
    ax.set_ylim(0, ymax)
    ax.set_xticks(range(2000, 8001, 1000))
    ax.set_yticks(range(1, ymax))
    ax.set_yticklabels([])
    ax.tick_params(direction='in', top=True, right=True, width=1, colors='#222222', labelcolor='black',
                   labelsize=14.5)
    ax.tick_params(axis='x', length=5, pad=5)
    ax.tick_params(axis='y', length=3.5)
    if not bottom:
        ax.set_xticklabels([])
    for s in ax.spines.values():
        s.set_linewidth(1.2)
        s.set_color('#222222')


left_axes = stack(41, 592, 4, 683, 10)
right_axes = stack(652, 1199, 4, 683, 6)

for i, ax in enumerate(left_axes):
    draw(ax, left_bands[i], left_spectra[i], left_phot[i], left_colors[i], 1.5 if i == 0 else 1.0, 6.5)
    style(ax, 6, (1282, 8500), i == 9)
    if i == 0:
        ax.text(0.973, 0.544, left_names[i], transform=ax.transAxes, ha='right', va='baseline',
                fontsize=15, color=left_colors[i])
        ax.text(0.81, 0.265, temp_labels[0], transform=ax.transAxes, ha='center', va='baseline',
                fontsize=15, color='#8c8c8c')
    else:
        ax.text(0.965, 0.53, left_names[i], transform=ax.transAxes, ha='right', va='baseline',
                fontsize=15, color=left_colors[i])

for i, ax in enumerate(right_axes):
    draw(ax, (bb_right_lo, bb_right_hi), right_spectra[i], right_phot[i], right_colors[i],
         0.9 if i in (1, 4) else 1.2, 7)
    style(ax, 7, (1300, 8450), i == 5)
    if i == 0:
        ax.text(0.98, 0.717, right_names[i], transform=ax.transAxes, ha='right', va='baseline',
                fontsize=15, color=right_colors[i])
        ax.text(0.806, 0.498, temp_labels[1], transform=ax.transAxes, ha='center', va='baseline',
                fontsize=15, color='#8c8c8c')
    else:
        ax.text(0.97, 0.625, right_names[i], transform=ax.transAxes, ha='right', va='baseline',
                fontsize=15, color=right_colors[i])

left_axes[-1].set_xlabel('Rest\u2212frame wavelength (\u00c5)', fontsize=15, labelpad=4)
right_axes[-1].set_xlabel('Rest\u2212frame wavelength (\u00c5)', fontsize=15, labelpad=4)

# y-axis label: larger superscripts and wider gaps, as in the original figure
ylab = (r'Scaled $F_\lambda$ (erg s$^{\mathsf{-1}}$ cm$^{\mathsf{-2}}$ '
        r'$\mathrm{\AA}^{\mathsf{-1}}$)')
plt.rcParams['mathtext.sf'] = 'Liberation Sans'
fig.text(15 / W, 1 - 305 / H, ylab, rotation=90, ha='center', va='center', fontsize=17)
fig.text(628 / W, 1 - 322 / H, ylab, rotation=90, ha='center', va='center', fontsize=17)

fig.savefig('out.png', dpi=100)
